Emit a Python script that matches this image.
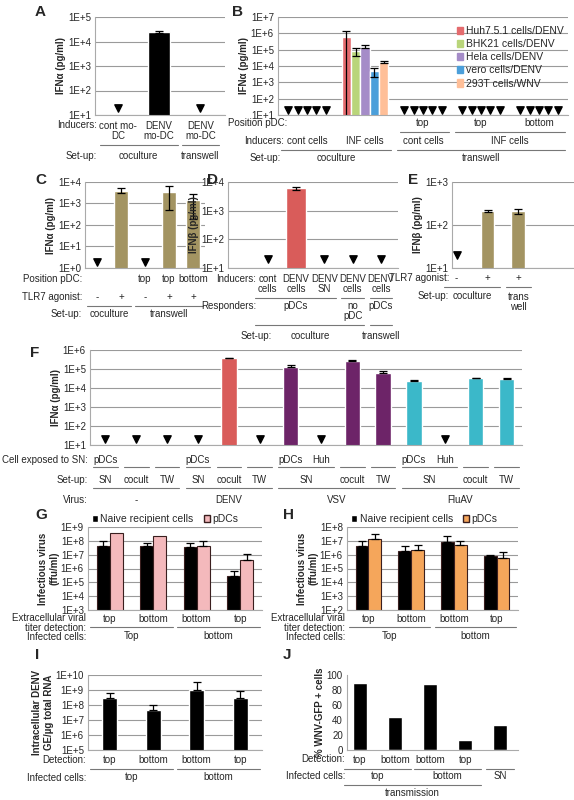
import numpy as np, pandas as pd, matplotlib
matplotlib.use('Agg')
import matplotlib.pyplot as plt, seaborn as sns
from matplotlib.transforms import blended_transform_factory as btf
from matplotlib.patches import Patch
from matplotlib.ticker import NullLocator

nan = np.nan
# ---------------- data ----------------
A_cats = ['cont mo-DC', 'DENV mo-DC (cocult)', 'DENV mo-DC (TW)']
A_vals = [nan, 2.5e4, nan]; A_err = [0, 2e3, 0]

B_groups = ['cocult cont', 'cocult INF', 'TW top cont', 'TW top INF', 'TW bottom INF']
B_lines = ['Huh7.5.1 cells/DENV', 'BHK21 cells/DENV', 'Hela cells/DENV', 'vero cells/DENV', '293T cells/WNV']
B_inf = [6e5, 8e4, 1.5e5, 5e3, 1.8e4]; B_inf_err = [7e5, 4e4, 3e4, 3e3, 2e3]
B_colors = ['#E46B6E', '#B9D57A', '#A58CC8', '#4B9FDA', '#FFBF98']

C_cats = ['c-', 'c+', 't-', 'ttop+', 'tbot+']
C_vals = [nan, 4000, nan, 3500, 1500]; C_err = [0, 1000, 0, 3000, 1300]

D_cats = ['cont cells', 'DENV cells', 'DENV SN', 'DENV cells nopDC', 'DENV cells TW']
D_vals = [nan, 6000, nan, nan, nan]; D_err = [0, 800, 0, 0, 0]

E_cats = ['-', '+', '+TW']
E_vals = [nan, 210, 210]; E_err = [0, 10, 30]

F_cats = [f'f{i}' for i in range(14)]
F_vals = [nan, nan, nan, nan, 3.8e5, nan, 1.2e5, nan, 2.8e5, 6e4, 2.4e4, nan, 3.3e4, 3e4]
F_err = [0, 0, 0, 0, 1e4, 0, 5e4, 0, 1e4, 2e4, 1e3, 0, 2e3, 5e3]
F_virus = ['-', '-', '-', 'DENV', 'DENV', 'DENV', 'VSV', 'VSV', 'VSV', 'VSV', 'FluAV', 'FluAV', 'FluAV', 'FluAV']
F_colors = {'-': '#888888', 'DENV': '#D95C5A', 'VSV': '#6D2468', 'FluAV': '#3BB8C9'}

G_cats = ['top/top', 'top/bottom', 'bottom/bottom', 'bottom/top']
G_naive = [4e7, 4e7, 3.5e7, 2.8e5]; G_naive_err = [5e7, 3.5e7, 4e7, 4e5]
G_pdc = [3.8e8, 2.1e8, 4.5e7, 3.8e6]; G_pdc_err = [0, 0, 6e7, 7e6]
H_naive = [4.5e6, 1.7e6, 8e6, 7.5e5]; H_naive_err = [6e6, 2.5e6, 1.3e7, 2e5]
H_pdc = [1.4e7, 2.2e6, 5e6, 6e5]; H_pdc_err = [1.6e7, 2.5e6, 4e6, 9e5]
I_vals = [2.8e8, 4.5e7, 1e9, 2.8e8]; I_err = [4e8, 5e7, 2.2e9, 5.5e8]
J_cats = ['top', 'bottom', 'bottom2', 'top2', 'SN']
J_vals = [89, 44, 88, 14, 33]

# ---------------- helpers ----------------
sns.set_style('white')
plt.rcParams['font.family'] = ['Liberation Sans', 'DejaVu Sans']
W, H = 574, 800
fig = plt.figure(figsize=(5.74, 8), dpi=100)
FS = 7

def mkax(l, t, r, b):
    return fig.add_axes([l / W, 1 - b / H, (r - l) / W, (b - t) / H])

def fy(p):
    return 1 - p / H

def style(ax, lo=None, hi=None, lin=None):
    if lin is None:
        ax.set_yscale('log'); ax.set_ylim(10 ** lo, 10 ** hi)
        ks = list(range(lo, hi + 1))
        ax.set_yticks([10 ** k for k in ks]); ax.set_yticklabels([f'1E+{k}' for k in ks])
        ax.yaxis.set_minor_locator(NullLocator())
    ax.tick_params(axis='y', labelsize=FS, length=2, pad=1)
    ax.tick_params(axis='x', bottom=False, labelbottom=False)
    ax.yaxis.grid(True, color='#9a9a9a', lw=0.8); ax.set_axisbelow(True)
    for s in ['top', 'right']:
        ax.spines[s].set_visible(False)
    ax.spines['left'].set_color('#aaaaaa'); ax.spines['bottom'].set_color('#aaaaaa')
    ax.set_xlabel('')

def ylab(ax, s):
    ax.set_ylabel(s, fontsize=FS, fontweight='bold', labelpad=1)

def txt(ax, x, y, s, **kw):
    ax.text(x, fy(y), s, transform=btf(ax.transData, fig.transFigure), ha='center', va='center',
            fontsize=FS, linespacing=1.0, **kw)

def line(ax, x0, x1, y):
    ax.plot([x0, x1], [fy(y)] * 2, transform=btf(ax.transData, fig.transFigure), color='#777', lw=0.8, clip_on=False)

def rowlab(x, y, s, ha='right'):
    fig.text(x / W, fy(y), s, ha=ha, va='center', fontsize=FS, linespacing=1.0)

def letter(x, y, s):
    fig.text(x / W, fy(y), s, ha='left', va='center', fontsize=11, fontweight='bold')

def bars(ax, cats, vals, errs, color, width=0.55, lo=None, up_only=False):
    v = np.nan_to_num(np.array(vals, float))
    df = pd.DataFrame({'c': cats, 'v': v})
    sns.barplot(data=df, x='c', y='v', color=color, width=width, ax=ax, errorbar=None, saturation=1)
    finish(ax, list(ax.patches), vals, errs, lo, up_only)

def finish(ax, patches, vals, errs, lo, up_only):
    for p, val, e in zip(patches, vals, errs):
        xc = p.get_x() + p.get_width() / 2
        if np.isnan(val):
            ax.scatter([xc], [10 ** (lo + 0.3)], marker='v', s=28, color='k', zorder=5, clip_on=False)
        elif e > 0:
            yerr = [[0], [e]] if up_only else [[e], [e]]
            ax.errorbar([xc], [val], yerr=yerr, fmt='none', ecolor='k', elinewidth=0.9, capsize=3, capthick=0.9)

# ---------------- A ----------------
ax = mkax(95, 17, 225, 115)
bars(ax, A_cats, A_vals, A_err, 'black', width=0.55, lo=1)
style(ax, 1, 5); ylab(ax, 'IFNα (pg/ml)'); ax.set_xlim(-0.56, 2.6)
letter(35, 12, 'A')
rowlab(97, 125, 'Inducers:')
for x, s in zip(range(3), ['cont mo-\nDC', 'DENV\nmo-DC', 'DENV\nmo-DC']):
    txt(ax, x, 131, s)
line(ax, -0.45, 1.45, 145); line(ax, 1.55, 2.45, 145)
rowlab(97, 156, 'Set-up:'); txt(ax, 0.5, 156, 'coculture'); txt(ax, 2, 156, 'transwell')

# ---------------- B ----------------
ax = mkax(278, 17, 568, 115)
recs = []
for g in B_groups:
    for i, c in enumerate(B_lines):
        recs.append((g, c, B_inf[i] if g == 'cocult INF' else nan, B_inf_err[i] if g == 'cocult INF' else 0))
dfb = pd.DataFrame(recs, columns=['g', 'c', 'v', 'e'])
dfb['vp'] = dfb['v'].fillna(0)
sns.barplot(data=dfb, x='g', y='vp', hue='c', palette=B_colors, hue_order=B_lines, order=B_groups,
            width=0.8, ax=ax, errorbar=None, legend=False, saturation=1)
ordered = []
for c in B_lines:
    for g in B_groups:
        r = dfb[(dfb.g == g) & (dfb.c == c)].iloc[0]
        ordered.append((r.v, r.e))
finish(ax, list(ax.patches), [o[0] for o in ordered], [o[1] for o in ordered], 1, False)
style(ax, 1, 7); ylab(ax, 'IFNα (pg/ml)'); ax.set_xlim(-0.5, 4.5)
ax.legend(handles=[Patch(color=c, label=l) for c, l in zip(B_colors, B_lines)], loc='upper right',
          bbox_to_anchor=(1.0, 0.95), frameon=False, fontsize=FS + 0.5, handlelength=0.6, handletextpad=0.3,
          labelspacing=0.3, borderaxespad=0)
letter(232, 12, 'B')
rowlab(228, 123, 'Position pDC:', ha='left')
txt(ax, 2, 123, 'top'); txt(ax, 3, 123, 'top'); txt(ax, 4, 123, 'bottom')
line(ax, 1.6, 2.45, 132); line(ax, 2.55, 4.45, 132)
rowlab(284, 141, 'Inducers:')
txt(ax, 0, 141, 'cont cells'); txt(ax, 1, 141, 'INF cells'); txt(ax, 2, 141, 'cont cells'); txt(ax, 3.5, 141, 'INF cells')
line(ax, -0.45, 1.45, 150); line(ax, 1.55, 4.45, 150)
rowlab(250, 158, 'Set-up:', ha='left')
txt(ax, 0.5, 158, 'coculture'); txt(ax, 3, 158, 'transwell')

# ---------------- C ----------------
ax = mkax(85, 182, 205, 268)
bars(ax, C_cats, C_vals, C_err, '#A39462', lo=0)
style(ax, 0, 4); ylab(ax, 'IFNα (pg/ml)'); ax.set_xlim(-0.5, 4.5)
letter(35, 180, 'C')
rowlab(82, 279, 'Position pDC:')
txt(ax, 2, 279, 'top'); txt(ax, 3, 279, 'top'); txt(ax, 4, 279, 'bottom')
rowlab(82, 297, 'TLR7 agonist:')
for x, s in enumerate(['-', '+', '-', '+', '+']):
    txt(ax, x, 297, s)
line(ax, -0.4, 1.4, 306); line(ax, 1.6, 4.4, 306)
rowlab(82, 314, 'Set-up:'); txt(ax, 0.5, 314, 'coculture'); txt(ax, 3, 314, 'transwell')

# ---------------- D ----------------
ax = mkax(228, 182, 398, 268)
bars(ax, D_cats, D_vals, D_err, '#D95C5A', width=0.7, lo=1)
style(ax, 1, 4); ylab(ax, 'IFNβ (pg/ml)'); ax.set_xlim(-1.4, 4.6)
letter(207, 180, 'D')
rowlab(256, 279, 'Inducers:')
for x, s in enumerate(['cont\ncells', 'DENV\ncells', 'DENV\nSN', 'DENV\ncells', 'DENV\ncells']):
    txt(ax, x, 284, s)
line(ax, -0.45, 2.4, 298); line(ax, 2.6, 3.4, 298); line(ax, 3.6, 4.4, 298)
rowlab(256, 306, 'Responders:')
txt(ax, 1, 306, 'pDCs'); txt(ax, 3, 311, 'no\npDC'); txt(ax, 4, 306, 'pDCs')
line(ax, -0.45, 3.4, 325); line(ax, 3.6, 4.4, 325)
rowlab(272, 336, 'Set-up:'); txt(ax, 1.5, 336, 'coculture'); txt(ax, 4, 336, 'transwell')

# ---------------- E ----------------
ax = mkax(452, 182, 574, 268)
bars(ax, E_cats, E_vals, E_err, '#A39462', width=0.45, lo=1)
style(ax, 1, 3); ylab(ax, 'IFNβ (pg/ml)'); ax.set_xlim(-0.15, 3.8)
letter(408, 180, 'E')
rowlab(449, 278, 'TLR7 agonist:')
for x, s in enumerate(['-', '+', '+']):
    txt(ax, x, 278, s)
line(ax, -0.4, 1.4, 287); line(ax, 1.6, 2.4, 287)
rowlab(449, 296, 'Set-up:'); txt(ax, 0.5, 296, 'coculture'); txt(ax, 2, 302, 'trans\nwell')

# ---------------- F ----------------
ax = mkax(90, 350, 522, 445)
dff = pd.DataFrame({'c': F_cats, 'v': np.nan_to_num(np.array(F_vals)), 'vir': F_virus})
sns.barplot(data=dff, x='c', y='v', hue='vir', palette=F_colors, dodge=False, width=0.5, ax=ax,
            errorbar=None, legend=False, saturation=1)
pts = sorted([p for p in ax.patches], key=lambda p: p.get_x())
finish(ax, pts, F_vals, F_err, 1, True)
style(ax, 1, 6); ylab(ax, 'IFNα (pg/ml)'); ax.set_xlim(-0.5, 13.5)
letter(30, 353, 'F')
rowlab(88, 460, 'Cell exposed to SN:')
for x, s in [(0, 'pDCs'), (3, 'pDCs'), (6, 'pDCs'), (7, 'Huh'), (10, 'pDCs'), (11, 'Huh')]:
    txt(ax, x, 460, s)
for a, b in [(0, 0), (1, 1), (2, 2), (3, 3), (4, 4), (5, 5), (6, 7), (8, 8), (9, 9), (10, 11), (12, 12), (13, 13)]:
    line(ax, a - 0.4, b + 0.4, 467)
rowlab(88, 480, 'Set-up:')
for x, s in [(0, 'SN'), (1, 'cocult'), (2, 'TW'), (3, 'SN'), (4, 'cocult'), (5, 'TW'), (6.5, 'SN'),
             (8, 'cocult'), (9, 'TW'), (10.5, 'SN'), (12, 'cocult'), (13, 'TW')]:
    txt(ax, x, 480, s)
for a, b in [(0, 2), (3, 5), (6, 9), (10, 13)]:
    line(ax, a - 0.4, b + 0.4, 488)
rowlab(88, 500, 'Virus:')
txt(ax, 1, 500, '-'); txt(ax, 4, 500, 'DENV'); txt(ax, 7.5, 500, 'VSV'); txt(ax, 11.5, 500, 'FluAV')

# ---------------- G, H ----------------
def paired(l, r, naive, nerr, pdc, perr, col, lo, hi, let, lx):
    ax = mkax(l, 527, r, 610)
    df = pd.DataFrame({'c': G_cats * 2, 'v': naive + pdc, 'h': ['Naive recipient cells'] * 4 + ['pDCs'] * 4})
    sns.barplot(data=df, x='c', y='v', hue='h', palette=['black', col], width=0.6, ax=ax, errorbar=None,
                legend=False, saturation=1, edgecolor='#3a1f1f', linewidth=0.8)
    finish(ax, list(ax.patches), naive + pdc, nerr + perr, lo, True)
    style(ax, lo, hi); ylab(ax, 'Infectious virus\n(ffu/ml)'); ax.set_xlim(-0.5, 3.5)
    ax.legend(handles=[Patch(facecolor='black', label='Naive recipient cells'),
                       Patch(facecolor=col, edgecolor='#3a1f1f', label='pDCs')],
              loc='lower left', bbox_to_anchor=(0.0, 0.98), ncol=2, frameon=False, fontsize=FS + 0.5,
              handlelength=0.6, handletextpad=0.2, columnspacing=1.0, borderaxespad=0)
    letter(lx, 515, let)
    rowlab(l - 2, 623, 'Extracellular viral\ntiter detection:')
    for x, s in enumerate(['top', 'bottom', 'bottom', 'top']):
        txt(ax, x, 619, s)
    line(ax, -0.45, 1.45, 627); line(ax, 1.55, 3.45, 627)
    rowlab(l - 2, 637, 'Infected cells:')
    txt(ax, 0.5, 636, 'Top'); txt(ax, 2.5, 636, 'bottom')

paired(88, 262, G_naive, G_naive_err, G_pdc, G_pdc_err, '#F4B9BC', 3, 9, 'G', 35)
paired(347, 518, H_naive, H_naive_err, H_pdc, H_pdc_err, '#F5A65B', 2, 8, 'H', 283)

# ---------------- I ----------------
ax = mkax(88, 675, 262, 750)
bars(ax, G_cats, I_vals, I_err, 'black', width=0.35, lo=5, up_only=True)
style(ax, 5, 10); ylab(ax, 'Intracellular DENV\nGE/µg total RNA'); ax.set_xlim(-0.5, 3.5)
letter(35, 655, 'I')
rowlab(86, 760, 'Detection:')
for x, s in enumerate(['top', 'bottom', 'bottom', 'top']):
    txt(ax, x, 760, s)
line(ax, -0.45, 1.45, 769); line(ax, 1.55, 3.45, 769)
rowlab(86, 778, 'Infected cells:'); txt(ax, 0.5, 777, 'top'); txt(ax, 2.5, 777, 'bottom')

# ---------------- J ----------------
ax = mkax(347, 675, 518, 750)
sns.barplot(x=J_cats, y=J_vals, color='black', width=0.4, ax=ax, errorbar=None, saturation=1)
style(ax, lin=True); ax.set_ylim(0, 100); ax.set_yticks(range(0, 101, 20))
ax.yaxis.grid(False); ax.set_xlim(-0.37, 4.5)
ylab(ax, '% WNV-GFP + cells')
letter(283, 655, 'J')
rowlab(345, 759, 'Detection:')
for x, s in enumerate(['top', 'bottom', 'bottom', 'top']):
    txt(ax, x, 760, s)
line(ax, -0.45, 1.45, 769); line(ax, 1.55, 3.45, 769); line(ax, 3.6, 4.4, 769)
rowlab(345, 776, 'Infected cells:')
txt(ax, 0.5, 776, 'top'); txt(ax, 2.5, 776, 'bottom'); txt(ax, 4, 776, 'SN')
line(ax, -0.45, 3.45, 785); txt(ax, 1.5, 793, 'transmission')

fig.savefig('out.png', dpi=100)
